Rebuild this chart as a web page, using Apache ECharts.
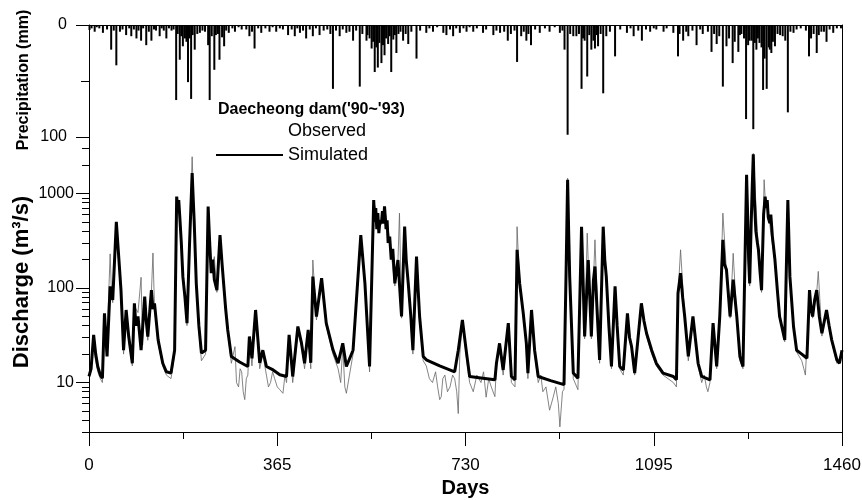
<!DOCTYPE html>
<html>
<head>
<meta charset="utf-8">
<title>Daecheong dam discharge</title>
<script src="https://cdn.jsdelivr.net/npm/echarts@6/dist/echarts.min.js"></script>
<style>
  html, body { margin: 0; padding: 0; background: #fff; }
  #chart { width: 862px; height: 500px; }
</style>
</head>
<body>
<div id="chart"></div>
<script>
// x axis (days) ticks
var dayTicks = [0, 365, 730, 1095, 1460];
// precipitation axis labels (mm), discharge axis labels (m3/s)
var precipLabels = [0, 100];
var dischargeLabels = [10, 100, 1000];
var dischargeMinor = [3, 4, 5, 6, 7, 8, 9, 20, 30, 40, 50, 60, 70, 80, 90,
  200, 300, 400, 500, 600, 700, 800, 900, 2000, 3000];

// daily precipitation: [day, mm]
var precip = [
  [1, 4.5], [5, 3], [11, 6], [15, 2], [20, 3], [27, 7], [35, 4], [43, 22], [48, 5], [53, 36],
  [60, 6], [65, 4], [72, 9], [78, 3], [82, 10], [87, 4], [92, 12], [96, 5], [101, 14], [105, 3],
  [111, 18], [116, 6], [121, 14], [126, 4], [130, 5], [137, 10], [141, 3], [145, 5], [150, 12],
  [155, 3], [160, 5], [164, 4], [169, 67], [172, 8], [176, 31], [179, 10], [182, 19], [186, 12],
  [189, 15], [192, 51], [195, 12], [198, 66], [201, 9], [205, 22], [210, 8], [215, 7], [220, 5],
  [225, 6], [231, 18], [234, 67], [238, 10], [243, 40], [246, 9], [250, 8], [253, 31], [258, 11],
  [262, 19], [266, 5], [271, 7], [278, 3], [283, 6], [290, 2], [296, 4], [305, 4], [311, 10],
  [316, 6], [321, 21], [328, 3], [334, 7], [342, 3], [350, 6], [356, 2], [363, 6], [370, 3],
  [376, 4], [386, 9], [393, 4], [399, 10], [404, 3], [409, 7], [415, 5], [421, 12], [428, 4],
  [434, 10], [440, 3], [447, 9], [455, 5], [462, 4], [468, 8], [473, 57], [479, 5], [486, 10],
  [492, 4], [499, 7], [505, 6], [512, 14], [518, 5], [525, 55], [530, 8], [538, 14], [540, 9],
  [544, 12], [548, 21], [551, 15], [554, 42], [557, 20], [560, 38], [563, 16], [567, 34], [570, 18],
  [573, 27], [576, 12], [580, 17], [583, 10], [586, 42], [590, 13], [593, 9], [596, 25], [600, 8],
  [604, 6], [609, 14], [614, 8], [619, 17], [625, 6], [635, 30], [642, 5], [654, 7], [660, 3],
  [667, 6], [675, 2], [687, 7], [693, 9], [700, 4], [706, 10], [712, 3], [719, 7], [726, 3],
  [732, 6], [738, 2], [745, 6], [752, 3], [764, 7], [770, 4], [784, 9], [790, 5], [797, 7],
  [805, 6], [812, 14], [818, 8], [825, 5], [830, 33], [838, 10], [843, 6], [848, 14], [852, 8],
  [857, 18], [865, 4], [874, 7], [884, 3], [893, 6], [903, 2], [913, 7], [918, 5], [922, 22],
  [928, 98], [933, 8], [939, 10], [945, 10], [950, 8], [955, 57], [958, 12], [961, 14], [966, 46],
  [970, 9], [974, 22], [978, 14], [981, 21], [985, 9], [987, 19], [992, 8], [997, 61], [1003, 10],
  [1010, 6], [1020, 28], [1030, 4], [1043, 7], [1050, 3], [1056, 10], [1065, 5], [1072, 14],
  [1080, 4], [1088, 6], [1095, 3], [1100, 4], [1114, 6], [1120, 3], [1133, 7], [1142, 28],
  [1145, 8], [1152, 14], [1158, 6], [1162, 10], [1170, 5], [1178, 18], [1185, 4], [1190, 8],
  [1200, 6], [1207, 24], [1212, 8], [1217, 17], [1222, 10], [1229, 55], [1236, 19], [1241, 12],
  [1248, 34], [1252, 15], [1259, 24], [1262, 9], [1265, 8], [1270, 12], [1274, 84], [1278, 18],
  [1281, 14], [1285, 14], [1288, 93], [1291, 16], [1294, 22], [1297, 12], [1300, 16], [1304, 20],
  [1307, 58], [1310, 30], [1314, 57], [1318, 20], [1320, 22], [1323, 25], [1326, 15], [1330, 19],
  [1335, 8], [1340, 9], [1345, 10], [1350, 14], [1355, 78], [1360, 6], [1366, 7], [1372, 4],
  [1380, 3], [1390, 5], [1396, 28], [1400, 12], [1405, 8], [1411, 25], [1415, 9], [1420, 6],
  [1425, 6], [1430, 15], [1436, 4], [1443, 7], [1450, 3], [1458, 3]
];

// simulated discharge: [day, m3/s]
var simulated = [
  [0, 11.6], [4, 14], [9, 32], [13, 20], [17, 14.8], [22, 12], [26, 11.1], [30, 54], [35, 18.9],
  [41, 104], [46, 75], [53, 503], [58, 200], [62, 95], [67, 22], [72, 58.6], [77, 30.7], [84, 16],
  [88, 69], [91, 40], [95, 50], [101, 22], [108, 81], [111, 45], [114, 30.7], [121, 95], [124, 60],
  [127, 69], [134, 28.3], [143, 16], [150, 13], [159, 12.6], [166, 22], [170, 929], [172, 700],
  [174, 850], [176, 570], [179, 300], [182, 132], [186, 80], [190, 42.5], [195, 300], [200, 1645],
  [202, 900], [204, 500], [208, 112], [213, 40], [218, 20.5], [226, 22], [231, 730], [234, 300],
  [237, 144], [240, 200], [243, 123], [248, 95], [254, 364], [258, 180], [261, 112], [265, 60],
  [269, 36], [276, 18.9], [292, 16.5], [308, 14.8], [311, 30.7], [316, 18], [323, 58.6], [331, 16.2],
  [337, 22], [344, 14.8], [357, 13.6], [370, 12.1], [383, 11.6], [388, 32], [395, 11.6], [405, 39.2],
  [412, 26.1], [418, 16], [425, 36], [430, 16.2], [434, 132], [441, 50], [451, 127], [460, 42.5],
  [473, 22.2], [483, 16], [492, 26], [499, 14.8], [512, 22], [527, 364], [535, 112], [544, 14.8],
  [552, 855], [554, 500], [556, 700], [558, 420], [560, 620], [562, 380], [564, 520], [567, 486],
  [569, 650], [571, 480], [573, 730], [576, 420], [578, 520], [580, 300], [583, 351], [586, 200],
  [589, 260], [593, 112], [596, 150], [599, 198], [603, 90], [606, 50], [612, 446], [615, 200],
  [619, 112], [624, 50], [628, 22], [635, 215], [638, 100], [641, 50], [648, 18.9], [654, 17.4],
  [680, 15], [709, 13], [716, 22], [724, 46], [732, 20.5], [738, 11.6], [760, 11.2], [787, 10.7],
  [790, 16], [796, 26], [803, 13.6], [813, 42.5], [819, 11.6], [826, 10.7], [830, 254], [835, 112],
  [842, 54], [848, 26], [851, 12.6], [858, 58.6], [864, 22], [871, 11.6], [895, 10.5], [921, 9.5],
  [925, 144], [928, 1400], [930, 400], [932, 132], [939, 12.6], [948, 11.1], [955, 446], [958, 120],
  [961, 30.7], [968, 198], [971, 80], [974, 30.7], [978, 120], [981, 169], [985, 60], [990, 17.4],
  [997, 446], [1000, 200], [1003, 132], [1008, 40], [1013, 14.8], [1020, 104], [1024, 40],
  [1029, 14.8], [1036, 13.6], [1044, 54], [1048, 30], [1052, 24], [1058, 12.6], [1071, 69],
  [1076, 45], [1081, 33.3], [1091, 22], [1100, 16], [1113, 12.6], [1133, 11.6], [1139, 10.7],
  [1142, 88], [1147, 144], [1151, 80], [1155, 50], [1162, 18.9], [1171, 50], [1181, 16], [1188, 11.6],
  [1204, 10.7], [1210, 42.5], [1217, 14.8], [1223, 50], [1229, 324], [1232, 180], [1236, 156],
  [1243, 50], [1249, 123], [1256, 50], [1262, 18.9], [1268, 14.8], [1275, 1580], [1277, 600],
  [1279, 200], [1281, 112], [1284, 500], [1286, 1200], [1288, 2600], [1290, 900], [1293, 400],
  [1296, 300], [1298, 254], [1301, 150], [1304, 95], [1308, 600], [1311, 929], [1313, 700],
  [1315, 850], [1317, 560], [1320, 486], [1322, 600], [1325, 350], [1327, 280], [1330, 198],
  [1335, 90], [1339, 50], [1349, 28.3], [1355, 855], [1359, 132], [1366, 39.2], [1372, 22],
  [1382, 20], [1392, 18.1], [1397, 95], [1400, 60], [1403, 50], [1407, 75], [1411, 95], [1416, 50],
  [1421, 33.3], [1430, 58.6], [1435, 40], [1440, 28.3], [1450, 17.4], [1455, 16], [1460, 22]
];

// observed discharge: [day, m3/s]
var observed = [
  [0, 12], [3, 13], [8, 28], [12, 18], [17, 13], [22, 11], [26, 10], [30, 48], [34, 20], [41, 230],
  [43, 110], [46, 70], [53, 460], [58, 180], [62, 90], [67, 20], [72, 55], [77, 28], [84, 15], [88, 64],
  [95, 55], [101, 130], [104, 25], [108, 78], [114, 28], [121, 90], [124, 235], [127, 62], [134, 26],
  [143, 15], [150, 12], [159, 11], [166, 20], [170, 880], [176, 600], [182, 140], [190, 40], [195, 280],
  [200, 2450], [204, 520], [208, 100], [213, 36], [218, 17], [226, 20], [231, 700], [237, 150],
  [243, 215], [248, 90], [254, 340], [261, 110], [269, 34], [276, 16], [283, 24], [286, 10], [290, 9],
  [293, 14], [296, 13], [299, 8], [302, 6.6], [305, 11], [308, 12], [311, 28], [316, 15], [323, 55],
  [331, 14], [337, 20], [344, 12], [348, 9], [352, 10], [356, 13], [360, 11], [365, 9], [370, 8.4],
  [376, 7.7], [380, 12], [383, 10], [388, 30], [395, 10], [405, 36], [412, 24], [418, 14], [425, 34],
  [430, 14], [434, 198], [441, 46], [451, 120], [460, 40], [473, 20], [483, 14], [488, 10], [492, 24],
  [496, 9], [499, 7.7], [505, 12], [512, 20], [527, 350], [535, 105], [544, 13], [552, 820],
  [560, 560], [567, 470], [573, 700], [583, 330], [593, 105], [599, 190], [602, 620], [606, 48],
  [612, 430], [619, 105], [628, 20], [635, 205], [641, 46], [648, 17], [654, 15], [660, 11],
  [666, 10], [672, 13], [676, 9], [680, 6.6], [683, 7.1], [686, 11], [690, 12], [695, 8], [700, 9],
  [705, 12], [709, 11], [713, 8], [716, 4.7], [719, 20], [724, 44], [732, 18], [738, 10], [745, 8],
  [752, 12], [760, 10], [765, 13], [770, 7], [775, 11], [780, 9], [787, 7.1], [790, 15], [796, 24],
  [803, 12], [813, 40], [819, 10], [826, 9], [830, 446], [835, 105], [842, 50], [848, 24], [851, 11],
  [858, 55], [864, 20], [871, 10], [876, 12], [880, 8], [886, 9], [893, 5.1], [900, 7], [905, 9],
  [910, 6], [913, 3.4], [918, 8], [921, 8.5], [925, 130], [928, 1450], [932, 120], [939, 11],
  [948, 8.4], [955, 430], [961, 29], [966, 381], [968, 190], [974, 29], [981, 324], [990, 16],
  [997, 430], [1003, 125], [1013, 14], [1020, 100], [1029, 14], [1036, 12], [1044, 50], [1052, 22],
  [1058, 12], [1071, 65], [1081, 31], [1091, 20], [1100, 15], [1113, 12], [1133, 10], [1139, 9],
  [1142, 85], [1147, 254], [1155, 48], [1162, 17], [1171, 48], [1181, 15], [1188, 10], [1193, 12],
  [1197, 9], [1200, 8], [1204, 10], [1210, 40], [1217, 14], [1223, 48], [1229, 620], [1236, 150],
  [1243, 48], [1249, 233], [1256, 48], [1262, 17], [1268, 14], [1275, 1500], [1281, 105],
  [1288, 2660], [1298, 240], [1304, 90], [1309, 1400], [1311, 900], [1320, 470], [1330, 190],
  [1339, 48], [1349, 27], [1355, 820], [1359, 125], [1366, 37], [1372, 21], [1382, 17], [1386, 14],
  [1389, 12], [1392, 11.6], [1397, 90], [1403, 48], [1411, 90], [1414, 150], [1421, 31], [1430, 55],
  [1440, 27], [1450, 16], [1460, 21]
];

var FONT = "'Liberation Sans', Arial, sans-serif";
var black = '#000';

function plain(v) { return String(v); }

var chart = echarts.init(document.getElementById('chart'));

var option = {
  animation: false,
  backgroundColor: '#fff',
  textStyle: { fontFamily: FONT, color: black },
  title: {
    text: "Daecheong dam('90~'93)",
    left: 218, top: 102, padding: 0,
    textStyle: { fontFamily: FONT, fontSize: 16, fontWeight: 'bold', color: black }
  },
  legend: {
    orient: 'vertical',
    left: 215, top: 122, padding: 0,
    itemWidth: 67, itemHeight: 14, itemGap: 6,
    textStyle: { fontFamily: FONT, fontSize: 18, color: black },
    data: [
      { name: 'Observed', itemStyle: { opacity: 0 }, lineStyle: { opacity: 0 } },
      { name: 'Simulated', itemStyle: { opacity: 0 } }
    ]
  },
  graphic: [
    {
      type: 'text', x: 24, y: 80, rotation: Math.PI / 2,
      style: {
        text: 'Precipitation (mm)', fill: black,
        font: 'bold 16px ' + FONT,
        textAlign: 'center', textVerticalAlign: 'middle',
        align: 'center', verticalAlign: 'middle'
      }
    },
    {
      type: 'text', x: 22, y: 282, rotation: Math.PI / 2,
      style: {
        text: 'Discharge (m\u00B3/s)', fill: black,
        font: 'bold 22px ' + FONT,
        textAlign: 'center', textVerticalAlign: 'middle',
        align: 'center', verticalAlign: 'middle'
      }
    }
  ],
  grid: [
    { left: 89, right: 20, top: 25, height: 112, containLabel: false, outerBoundsMode: 'none' },
    { left: 89, right: 20, top: 99, height: 333, containLabel: false, outerBoundsMode: 'none' }
  ],
  xAxis: [
    {
      gridIndex: 0, type: 'value', position: 'top', min: 0, max: 1460,
      axisLine: { lineStyle: { color: black, width: 1 } },
      axisTick: { show: false }, axisLabel: { show: false }, splitLine: { show: false }
    },
    {
      gridIndex: 1, type: 'value', position: 'bottom', min: 0, max: 1460, interval: 365,
      name: 'Days', nameLocation: 'middle', nameGap: 46,
      nameTextStyle: { fontFamily: FONT, fontSize: 20, fontWeight: 'bold', color: black },
      axisLine: { onZero: false, lineStyle: { color: black, width: 1 } },
      axisTick: { length: 14, lineStyle: { color: black, width: 1 } },
      minorTick: { show: true, splitNumber: 2, length: 7, lineStyle: { color: black, width: 1 } },
      axisLabel: {
        margin: 25, fontSize: 17, color: black, fontFamily: FONT,
        customValues: dayTicks, formatter: plain
      },
      splitLine: { show: false }
    }
  ],
  yAxis: [
    {
      gridIndex: 0, type: 'value', inverse: true, min: 0, max: 100, position: 'left',
      axisLine: { show: true, onZero: false, lineStyle: { color: black, width: 1 } },
      axisTick: { show: true, length: 13, customValues: precipLabels, lineStyle: { color: black } },
      axisLabel: { margin: 22, fontSize: 16, color: black, fontFamily: FONT,
        customValues: precipLabels, formatter: plain },
      splitLine: { show: false }
    },
    {
      gridIndex: 0, type: 'value', inverse: true, min: 0, max: 100, position: 'left',
      axisLine: { show: false },
      axisTick: { show: true, length: 8, customValues: [50], lineStyle: { color: black } },
      axisLabel: { show: false }, splitLine: { show: false }
    },
    {
      gridIndex: 0, type: 'value', inverse: true, min: 0, max: 100, position: 'right',
      axisLine: { show: true, onZero: false, lineStyle: { color: black, width: 1 } },
      axisTick: { show: false }, axisLabel: { show: false }, splitLine: { show: false }
    },
    {
      gridIndex: 1, type: 'log', logBase: 10, min: 3, max: 10000, position: 'left',
      axisLine: { show: true, onZero: false, lineStyle: { color: black, width: 1 } },
      axisTick: { show: true, length: 13, customValues: dischargeLabels, lineStyle: { color: black } },
      axisLabel: { margin: 15, fontSize: 16, color: black, fontFamily: FONT,
        customValues: dischargeLabels, formatter: plain },
      splitLine: { show: false }
    },
    {
      gridIndex: 1, type: 'log', logBase: 10, min: 3, max: 10000, position: 'left',
      axisLine: { show: false },
      axisTick: { show: true, length: 7, customValues: dischargeMinor, lineStyle: { color: black } },
      axisLabel: { show: false }, splitLine: { show: false }
    },
    {
      gridIndex: 1, type: 'log', logBase: 10, min: 3, max: 10000, position: 'right',
      axisLine: { show: true, onZero: false, lineStyle: { color: black, width: 1 } },
      axisTick: { show: false }, axisLabel: { show: false }, splitLine: { show: false }
    }
  ],
  series: [
    {
      name: 'Precipitation', type: 'bar', xAxisIndex: 0, yAxisIndex: 0,
      data: precip, barWidth: 2, itemStyle: { color: black }, z: 2
    },
    {
      name: 'Observed', type: 'line', xAxisIndex: 1, yAxisIndex: 3,
      data: observed, symbol: 'none', z: 2,
      lineStyle: { color: '#666', width: 0.8 }, itemStyle: { color: '#666' }
    },
    {
      name: 'Simulated', type: 'line', xAxisIndex: 1, yAxisIndex: 3,
      data: simulated, symbol: 'none', z: 3,
      lineStyle: { color: black, width: 3 }, itemStyle: { color: black }
    }
  ]
};

chart.setOption(option);
</script>
</body>
</html>
